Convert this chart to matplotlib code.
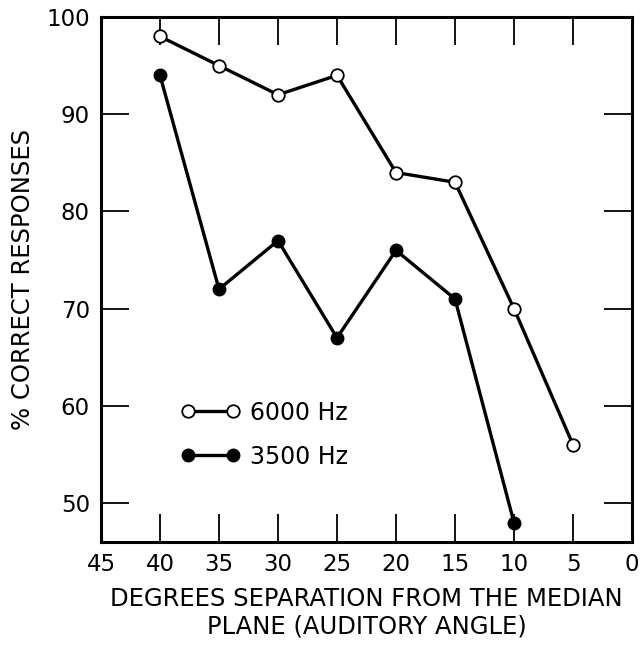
import matplotlib
matplotlib.use("Agg")
import matplotlib.pyplot as plt

# separation (deg) and % correct responses
sep_6000 = [40, 35, 30, 25, 20, 15, 10, 5]
pct_6000 = [98, 95, 92, 94, 84, 83, 70, 56]
sep_3500 = [40, 35, 30, 25, 20, 15, 10]
pct_3500 = [94, 72, 77, 67, 76, 71, 48]

x_ticks = [45, 40, 35, 30, 25, 20, 15, 10, 5, 0]
y_ticks = [50, 60, 70, 80, 90, 100]

plt.rcParams['font.family'] = ['DejaVu Sans']

fig = plt.figure(figsize=(6.41, 6.45), dpi=100)
ax = fig.add_axes([101 / 641, 1 - 542 / 645, 531 / 641, 525 / 645])

ax.plot(sep_6000, pct_6000, '-o', color='black', lw=2.4, ms=9,
        mfc='white', mec='black', mew=1.3, label='6000 Hz')
ax.plot(sep_3500, pct_3500, '-o', color='black', lw=2.4, ms=9,
        mfc='black', mec='black', label='3500 Hz')

ax.set_xlim(45, 0)
ax.set_ylim(46, 100)
ax.set_xticks(x_ticks)
ax.set_yticks(y_ticks)

for s in ax.spines.values():
    s.set_linewidth(2.2)
ax.tick_params(direction='in', length=20, width=1.3, labelsize=16.5,
               top=True, right=True, pad=8)

ax.set_xlabel('DEGREES SEPARATION FROM THE MEDIAN\nPLANE (AUDITORY ANGLE)',
              fontsize=17.5, labelpad=8, linespacing=1.15)
ax.set_ylabel('% CORRECT RESPONSES', fontsize=17.5, labelpad=8)

leg = ax.legend(loc='upper left', bbox_to_anchor=(0.11, 0.31), numpoints=2,
                frameon=False, fontsize=17, handlelength=2.5,
                handletextpad=0.45, labelspacing=0.85)

fig.savefig('out.png', dpi=100)
